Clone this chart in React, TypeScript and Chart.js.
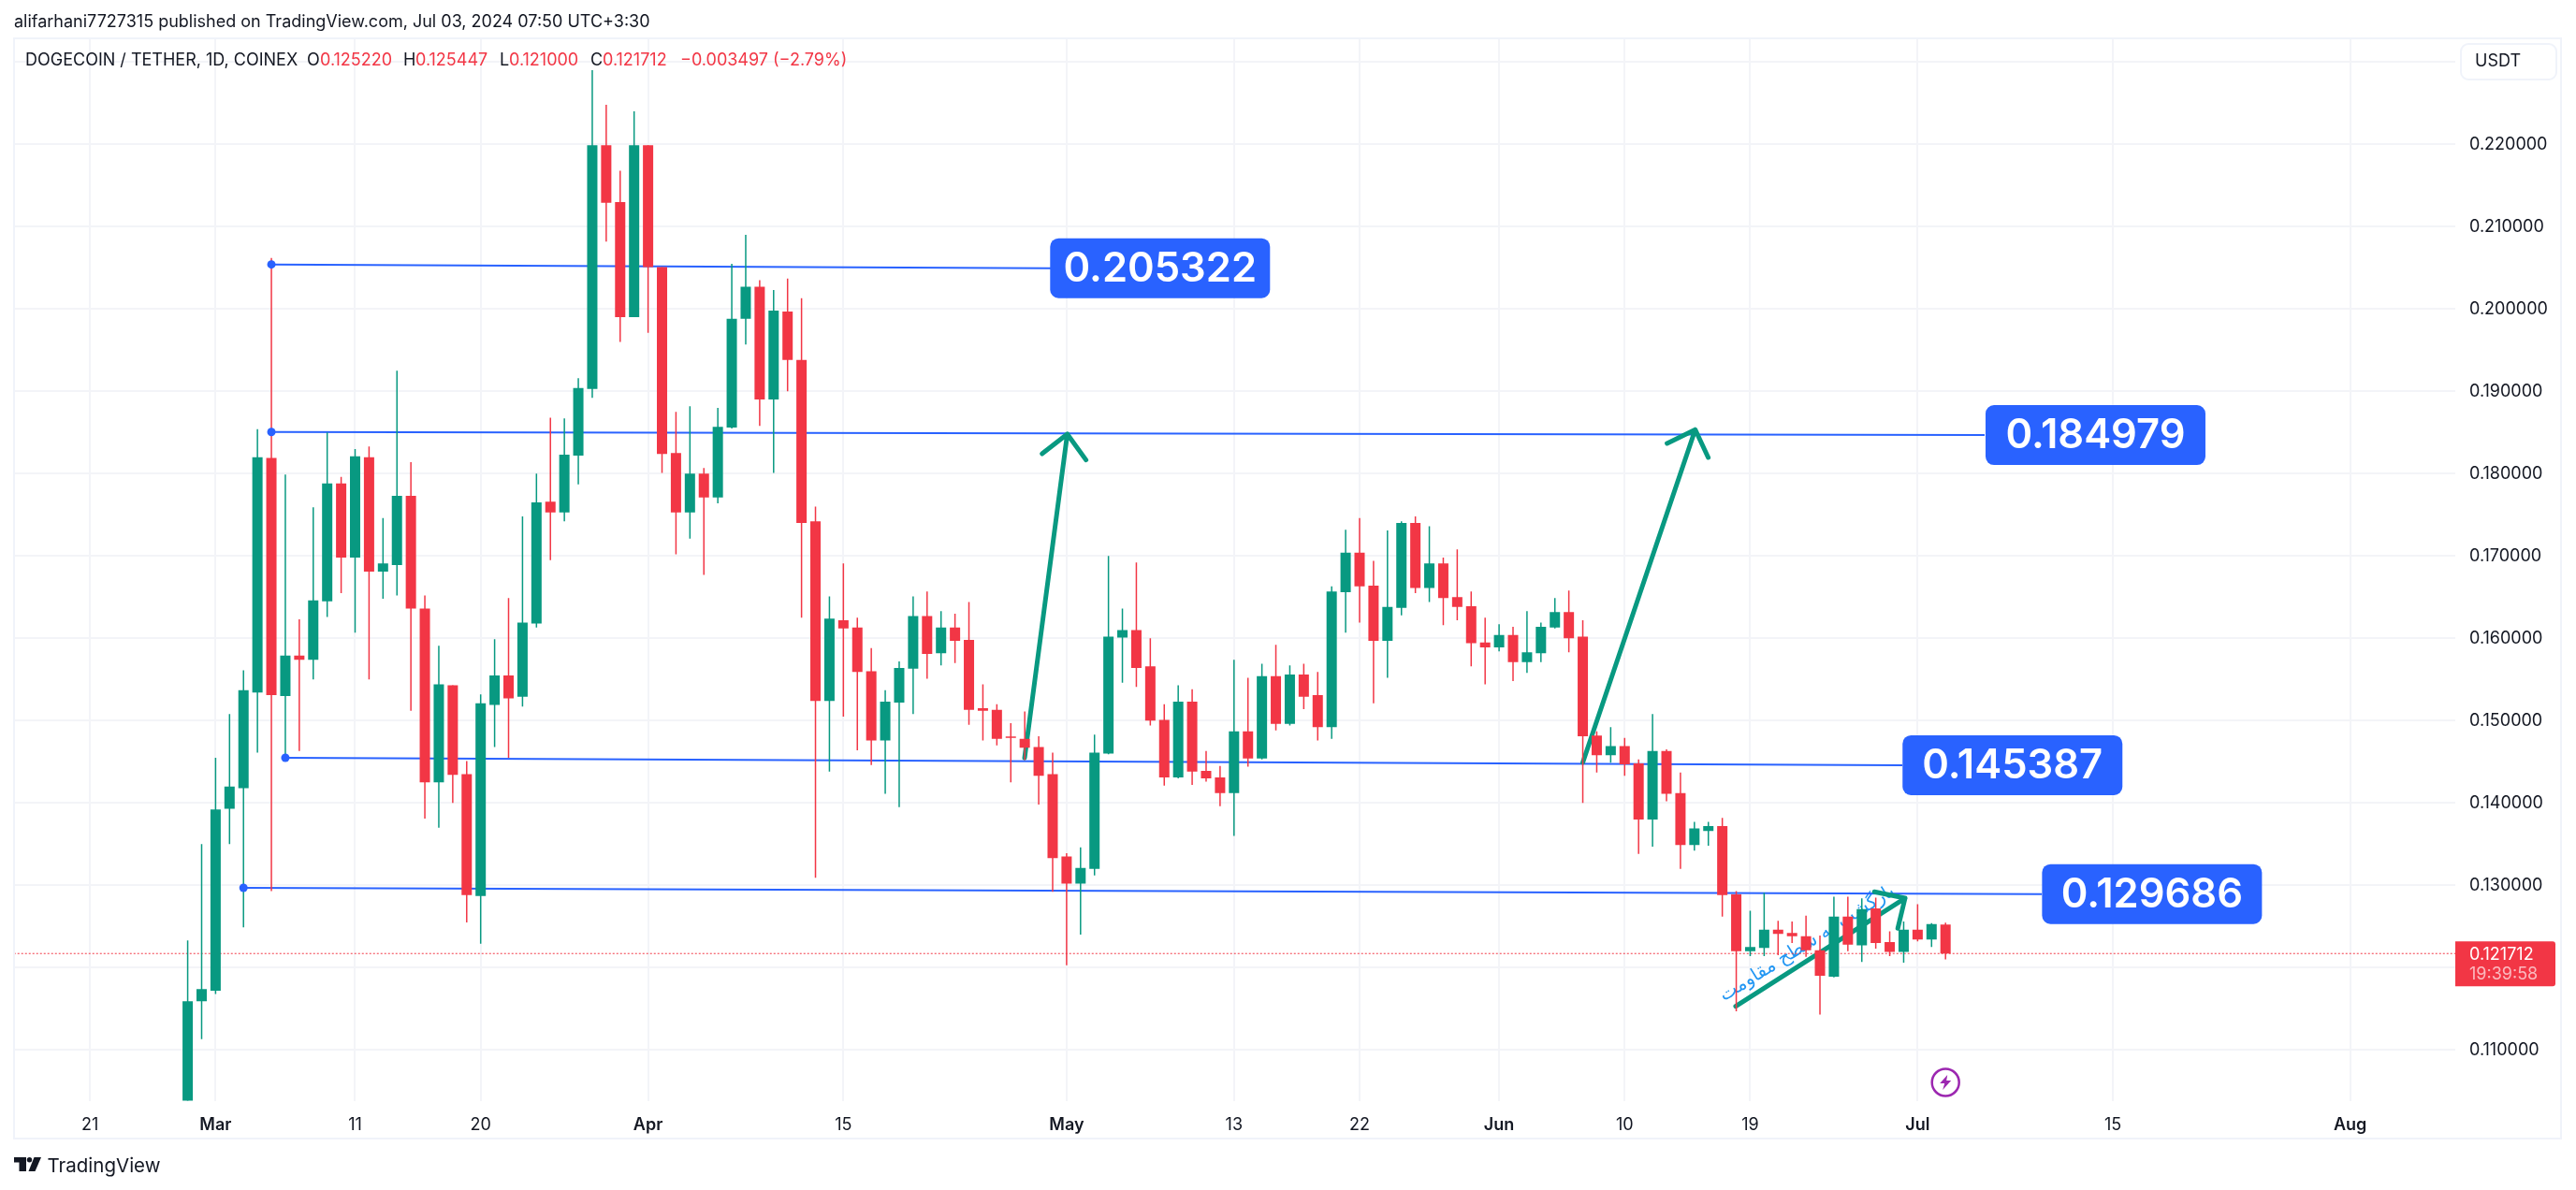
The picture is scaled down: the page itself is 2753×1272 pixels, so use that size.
import React, { useEffect, useRef } from "react";
import { Chart, registerables } from "chart.js";

Chart.register(...registerables);

const candleDates = [
  "02-28","02-29",
  "03-01","03-02","03-03","03-04","03-05","03-06","03-07","03-08","03-09","03-10","03-11","03-12","03-13","03-14","03-15","03-16","03-17","03-18","03-19","03-20","03-21","03-22","03-23","03-24","03-25","03-26","03-27","03-28","03-29","03-30","03-31",
  "04-01","04-02","04-03","04-04","04-05","04-06","04-07","04-08","04-09","04-10","04-11","04-12","04-13","04-14","04-15","04-16","04-17","04-18","04-19","04-20","04-21","04-22","04-23","04-24","04-25","04-26","04-27","04-28","04-29","04-30",
  "05-01","05-02","05-03","05-04","05-05","05-06","05-07","05-08","05-09","05-10","05-11","05-12","05-13","05-14","05-15","05-16","05-17","05-18","05-19","05-20","05-21","05-22","05-23","05-24","05-25","05-26","05-27","05-28","05-29","05-30","05-31",
  "06-01","06-02","06-03","06-04","06-05","06-06","06-07","06-08","06-09","06-10","06-11","06-12","06-13","06-14","06-15","06-16","06-17","06-18","06-19","06-20","06-21","06-22","06-23","06-24","06-25","06-26","06-27","06-28","06-29","06-30",
  "07-01","07-02","07-03",
];

const opens = [
  .0985,.1159,
  .1172,.1393,.1418,.1534,.1819,.1530,.1579,.1574,.1645,.1788,.1698,.1820,.1681,.1689,.1773,.1636,.1425,.1543,.1435,.1287,.1519,.1555,.1529,.1618,.1766,.1753,.1822,.1903,.2199,.2130,.1990,
  .2199,.2051,.1825,.1753,.1800,.1771,.1856,.1988,.2027,.1890,.1997,.1938,.1742,.1524,.1622,.1613,.1560,.1476,.1522,.1563,.1627,.1582,.1613,.1598,.1515,.1513,.1480,.1478,.1468,.1435,
  .1335,.1302,.1320,.1460,.1601,.1610,.1566,.1501,.1431,.1523,.1439,.1431,.1412,.1487,.1454,.1554,.1496,.1556,.1531,.1492,.1656,.1704,.1664,.1597,.1637,.1740,.1661,.1691,.1650,.1639,.1595,
  .1589,.1604,.1571,.1582,.1613,.1632,.1602,.1482,.1458,.1469,.1448,.1380,.1463,.1412,.1349,.1366,.1372,.1289,.1220,.1224,.1246,.1242,.1238,.1221,.1189,.1262,.1227,.1272,.1231,.1219,
  .1246,.1234,.12522,
];

const highs = [
  .1233,.1350,
  .1455,.1508,.1561,.1854,.2062,.1799,.1623,.1759,.1850,.1796,.1830,.1833,.1746,.1925,.1814,.1652,.1591,.1543,.1451,.1532,.1599,.1649,.1748,.1800,.1868,.1867,.1916,.2290,.2248,.2168,.2240,
  .2199,.2051,.1875,.1882,.1807,.1880,.2055,.2090,.2035,.2023,.2037,.2013,.1760,.1651,.1691,.1625,.1588,.1537,.1572,.1651,.1657,.1633,.1630,.1644,.1544,.1520,.1497,.1511,.1481,.1461,
  .1339,.1346,.1483,.1700,.1636,.1692,.1600,.1520,.1543,.1538,.1463,.1445,.1574,.1552,.1569,.1592,.1567,.1569,.1559,.1663,.1732,.1746,.1694,.1731,.1742,.1748,.1736,.1698,.1708,.1657,.1625,
  .1617,.1614,.1633,.1619,.1649,.1658,.1622,.1487,.1492,.1479,.1453,.1508,.1465,.1437,.1377,.1377,.1382,.1293,.1269,.1291,.1257,.1256,.1263,.1239,.1286,.1286,.1284,.1285,.1244,.1256,
  .1277,.1254,.125447,
];

const lows = [
  .0970,.1113,
  .1168,.1350,.1249,.1461,.1293,.1455,.1463,.1550,.1626,.1655,.1607,.1550,.1648,.1652,.1512,.1381,.1370,.1400,.1255,.1229,.1468,.1455,.1517,.1613,.1695,.1742,.1787,.1892,.2082,.1960,.1990,
  .1971,.1801,.1702,.1721,.1677,.1764,.1855,.1957,.1858,.1801,.1900,.1625,.1309,.1438,.1505,.1464,.1446,.1411,.1395,.1508,.1551,.1567,.1570,.1495,.1476,.1470,.1425,.1452,.1398,.1292,
  .1203,.1240,.1312,.1459,.1546,.1541,.1494,.1421,.1430,.1422,.1426,.1396,.1360,.1444,.1453,.1488,.1494,.1514,.1476,.1478,.1607,.1619,.1521,.1552,.1628,.1655,.1644,.1616,.1622,.1566,.1544,
  .1584,.1548,.1558,.1571,.1612,.1583,.1400,.1437,.1449,.1433,.1338,.1347,.1402,.1320,.1342,.1348,.1262,.1147,.1214,.1214,.1215,.1230,.1213,.1143,.1188,.1220,.1207,.1223,.1214,.1206,
  .1232,.1225,.121,
];

const closes = [
  .1159,.1174,
  .1392,.1420,.1537,.1820,.1531,.1579,.1574,.1646,.1788,.1698,.1821,.1681,.1691,.1773,.1636,.1425,.1544,.1434,.1288,.1521,.1555,.1527,.1619,.1765,.1753,.1823,.1904,.2199,.2129,.1990,.2199,
  .2051,.1824,.1753,.1800,.1771,.1857,.1988,.2027,.1890,.1998,.1938,.1740,.1524,.1624,.1612,.1559,.1476,.1523,.1564,.1627,.1581,.1613,.1597,.1513,.1512,.1478,.1479,.1467,.1433,.1333,
  .1302,.1321,.1461,.1602,.1610,.1564,.1500,.1431,.1523,.1438,.1430,.1412,.1487,.1454,.1554,.1496,.1556,.1529,.1492,.1657,.1704,.1663,.1597,.1638,.1740,.1661,.1691,.1649,.1638,.1594,.1589,
  .1604,.1571,.1583,.1614,.1632,.1600,.1481,.1458,.1469,.1447,.1380,.1463,.1411,.1349,.1369,.1372,.1288,.1220,.1225,.1246,.1241,.1238,.1221,.1190,.1262,.1228,.1271,.1230,.1219,.1246,
  .1234,.1253,.121712,
];

const lastClose = 0.121712;

const xTickDays = [-9, 0, 10, 19, 31, 45, 61, 73, 82, 92, 101, 110, 122, 136, 153];
const xTickLabels = ["21", "Mar", "11", "20", "Apr", "15", "May", "13", "22", "Jun", "10", "19", "Jul", "15", "Aug"];
const monthLabels = ["Mar", "Apr", "May", "Jun", "Jul", "Aug"];
const yTickValues = [0.23, 0.22, 0.21, 0.2, 0.19, 0.18, 0.17, 0.16, 0.15, 0.14, 0.13, 0.12, 0.11];
const yHiddenLabels = [0.23, 0.12];

const level205Days = [4, 59.87];
const level205Prices = [0.20541, 0.20495];
const level185Days = [4, 126.8];
const level185Prices = [0.18506, 0.18469];
const level145Days = [5, 120.9];
const level145Prices = [0.14549, 0.14458];
const level130Days = [2, 130.9];
const level130Prices = [0.12969, 0.12893];

const boxTexts = ["0.205322", "0.184979", "0.145387", "0.129686"];
const boxDays = [67.7, 134.75, 128.8, 138.8];
const boxPrices = [0.20495, 0.18469, 0.14458, 0.12893];

const arrowADays = [57.99, 61.05, 59.24, 61.05, 62.39];
const arrowAPrices = [0.14549, 0.18481, 0.18242, 0.18481, 0.18167];
const arrowBDays = [98.0, 106.06, 104.04, 106.06, 106.99];
const arrowBPrices = [0.14492, 0.18534, 0.18367, 0.18534, 0.18197];
const arrowCDays = [108.96, 121.1, 118.9, 121.1, 120.58];
const arrowCPrices = [0.1153, 0.12844, 0.12921, 0.12844, 0.12477];

const noteText = "بازگشت به سطح مقاومت";
const noteDay = 114.1;
const notePrice = 0.1229;

const headerText = "alifarhani7727315 published on TradingView.com, Jul 03, 2024 07:50 UTC+3:30";
const symbolText = "DOGECOIN / TETHER, 1D, COINEX";
const ohlcLetters = ["O", "H", "L", "C"];
const ohlcValues = ["0.125220", "0.125447", "0.121000", "0.121712"];
const changeText = "−0.003497 (−2.79%)";
const countdownText = "19:39:58";
const currencyText = "USDT";
const brandText = "TradingView";
const eventDay = 124;

const GREEN = "#089981";
const RED = "#f23645";
const BLUE = "#2962ff";
const INK = "#131722";
const GRID = "#f3f4f8";
const FRAME = "#f0f3fa";
const FONT = "Inter, 'Noto Sans', sans-serif";

const dayOf = (d: string) => {
  const [m, dd] = d.split("-").map(Number);
  return Math.round((Date.UTC(2024, m - 1, dd) - Date.UTC(2024, 2, 1)) / 86400000);
};
const candleDays = candleDates.map(dayOf);
const pairs = (xs: number[], ys: number[]) => xs.map((x, i) => ({ x, y: ys[i] }));

const annotationPlugin = {
  id: "annotations",
  beforeDatasetsDraw(chart: any) {
    const { ctx, scales } = chart;
    ctx.save();
    ctx.beginPath();
    ctx.rect(chart.chartArea.left, chart.chartArea.top, chart.chartArea.width, chart.chartArea.height);
    ctx.clip();
    ctx.translate(scales.x.getPixelForValue(noteDay), scales.y.getPixelForValue(notePrice));
    ctx.rotate((-32 * Math.PI) / 180);
    ctx.font = "20px 'DejaVu Sans'";
    ctx.fillStyle = "#2196f3";
    ctx.textAlign = "center";
    ctx.textBaseline = "middle";
    ctx.fillText(noteText, 0, 0);
    ctx.restore();
  },
  afterDatasetsDraw(chart: any) {
    const { ctx, scales } = chart;
    ctx.save();
    boxTexts.forEach((t, i) => {
      const cx = scales.x.getPixelForValue(boxDays[i]);
      const cy = scales.y.getPixelForValue(boxPrices[i]);
      ctx.font = `600 43.5px ${FONT}`;
      const w = 235;
      ctx.fillStyle = BLUE;
      ctx.beginPath();
      ctx.roundRect(cx - w / 2, cy - 32, w, 64, 9);
      ctx.fill();
      ctx.fillStyle = "#ffffff";
      ctx.textAlign = "center";
      ctx.textBaseline = "middle";
      ctx.fillText(t, cx, cy + 1);
    });
    // purple event marker
    const ex = scales.x.getPixelForValue(eventDay);
    const ey = chart.chartArea.bottom - 19.5;
    ctx.strokeStyle = "#9c27b0";
    ctx.fillStyle = "#9c27b0";
    ctx.lineWidth = 2.5;
    ctx.beginPath();
    ctx.arc(ex, ey, 14.5, 0, Math.PI * 2);
    ctx.stroke();
    ctx.beginPath();
    [[2, -8], [-6, 1], [-1, 1], [-3, 8], [6, -2], [1, -2]].forEach(([dx, dy], i) =>
      i ? ctx.lineTo(ex + dx, ey + dy) : ctx.moveTo(ex + dx, ey + dy)
    );
    ctx.closePath();
    ctx.fill();
    ctx.restore();
  },
  afterDraw(chart: any) {
    const { ctx, scales } = chart;
    ctx.save();
    // frame
    ctx.strokeStyle = FRAME;
    ctx.lineWidth = 2;
    ctx.strokeRect(15, 41, 2737 - 15, 1217 - 41);
    ctx.textBaseline = "middle";
    ctx.textAlign = "left";
    // header
    ctx.fillStyle = INK;
    ctx.font = `400 18px ${FONT}`;
    ctx.fillText(headerText, 15, 24);
    // legend
    ctx.font = `400 18px ${FONT}`;
    ctx.fillText(symbolText, 27, 65);
    const letterX = [328, 431, 534, 631];
    const valueX = [342, 444, 544, 644];
    ohlcLetters.forEach((l, i) => {
      ctx.fillStyle = INK;
      ctx.fillText(l, letterX[i], 65);
      ctx.fillStyle = RED;
      ctx.fillText(ohlcValues[i], valueX[i], 65);
    });
    ctx.fillText(changeText, 727, 65);
    // price tag
    const py = scales.y.getPixelForValue(lastClose);
    ctx.fillStyle = RED;
    ctx.beginPath();
    ctx.roundRect(2624, py - 13, 107, 48, [0, 3, 3, 0]);
    ctx.fill();
    ctx.font = `400 18px ${FONT}`;
    ctx.fillStyle = "#ffffff";
    ctx.fillText(ohlcValues[3], 2639, py + 1);
    ctx.fillStyle = "rgba(255,255,255,0.65)";
    ctx.fillText(countdownText, 2639, py + 22);
    // currency button
    ctx.fillStyle = "#ffffff";
    ctx.strokeStyle = FRAME;
    ctx.lineWidth = 2;
    ctx.beginPath();
    ctx.roundRect(2630, 47, 102, 38, 8);
    ctx.fill();
    ctx.stroke();
    ctx.fillStyle = INK;
    ctx.fillText(currencyText, 2645, 66);
    // brand
    ctx.fillStyle = INK;
    ctx.fillRect(15, 1237, 13, 5.5);
    ctx.fillRect(20.5, 1237, 7.5, 15);
    ctx.beginPath();
    ctx.arc(31.5, 1239.7, 2.7, 0, Math.PI * 2);
    ctx.fill();
    ctx.beginPath();
    ctx.moveTo(36.5, 1237);
    ctx.lineTo(44, 1237);
    ctx.lineTo(37.5, 1252);
    ctx.lineTo(30.5, 1252);
    ctx.closePath();
    ctx.fill();
    ctx.font = `400 20.5px ${FONT}`;
    ctx.fillText(brandText, 50.5, 1247);
    ctx.restore();
  },
};

export default function App() {
  const ref = useRef<HTMLCanvasElement | null>(null);
  useEffect(() => {
    document.body.style.margin = "0";
    const colors = closes.map((c, i) => (c >= opens[i] ? GREEN : RED));
    const levelLine = (xs: number[], ys: number[]) => ({
      type: "line" as const,
      data: pairs(xs, ys),
      borderColor: BLUE,
      borderWidth: 2,
      pointRadius: 0,
      order: 5,
      tension: 0,
    });
    const arrowLine = (xs: number[], ys: number[]) => ({
      type: "line" as const,
      data: pairs(xs, ys),
      borderColor: GREEN,
      borderWidth: 5,
      borderCapStyle: "round",
      borderJoinStyle: "round",
      pointRadius: 0,
      order: 4,
      tension: 0,
    });
    const chart = new Chart(ref.current!, {
      type: "bar",
      data: {
        datasets: [
          {
            type: "line",
            data: pairs(
              [level205Days[0], level185Days[0], level145Days[0], level130Days[0]],
              [level205Prices[0], level185Prices[0], level145Prices[0], level130Prices[0]]
            ),
            showLine: false,
            backgroundColor: BLUE,
            pointRadius: 4.5,
            pointBorderWidth: 0,
            order: 0,
          },
          {
            type: "bar",
            data: candleDays.map((x, i) => ({ x, y: [opens[i], closes[i]] })),
            backgroundColor: colors,
            borderWidth: 0,
            barThickness: 11,
            grouped: false,
            inflateAmount: 0,
            minBarLength: 1.5,
            order: 1,
          },
          {
            type: "bar",
            data: candleDays.map((x, i) => ({ x, y: [lows[i], highs[i]] })),
            backgroundColor: colors,
            borderWidth: 0,
            barThickness: 1.5,
            grouped: false,
            inflateAmount: 0,
            order: 2,
          },
          {
            type: "line",
            data: [
              { x: -15, y: lastClose },
              { x: 161, y: lastClose },
            ],
            borderColor: RED,
            borderWidth: 1,
            borderDash: [2, 2],
            pointRadius: 0,
            order: 3,
          },
          arrowLine(arrowADays, arrowAPrices),
          arrowLine(arrowBDays, arrowBPrices),
          arrowLine(arrowCDays, arrowCPrices),
          levelLine(level205Days, level205Prices),
          levelLine(level185Days, level185Prices),
          levelLine(level145Days, level145Prices),
          levelLine(level130Days, level130Prices),
        ] as any,
      },
      options: {
        responsive: false,
        animation: false,
        devicePixelRatio: 1,
        layout: { padding: { left: 16, right: 16, top: 42, bottom: 55 } },
        plugins: { legend: { display: false }, tooltip: { enabled: false }, title: { display: false } },
        scales: {
          x: {
            type: "linear",
            offset: false,
            min: -14.38,
            max: 160.54,
            grid: { color: GRID, lineWidth: 2, drawTicks: false, offset: false },
            border: { display: false },
            afterBuildTicks: (s: any) => {
              s.ticks = xTickDays.map((value) => ({ value }));
            },
            afterFit: (s: any) => {
              s.height = 40.5;
            },
            ticks: {
              autoSkip: false,
              maxRotation: 0,
              padding: 15,
              color: INK,
              font: (c: any) => ({
                family: FONT,
                size: 18,
                weight: monthLabels.includes(xTickLabels[c.index]) ? 600 : 400,
              }),
              callback: (_v: any, i: number) => xTickLabels[i],
            },
          },
          y: {
            type: "linear",
            position: "right",
            min: 0.10384,
            max: 0.23276,
            grid: { color: GRID, lineWidth: 2, drawTicks: false },
            border: { display: false },
            afterBuildTicks: (s: any) => {
              s.ticks = yTickValues.map((value) => ({ value }));
            },
            afterFit: (s: any) => {
              s.width = 113;
            },
            ticks: {
              autoSkip: false,
              padding: 15,
              color: INK,
              font: { family: FONT, size: 18 },
              callback: (v: any) => (yHiddenLabels.includes(v) ? "" : Number(v).toFixed(6)),
            },
          },
        },
      } as any,
      plugins: [annotationPlugin],
    });
    return () => chart.destroy();
  }, []);
  return (
    <canvas
      ref={ref}
      width={2753}
      height={1272}
      style={{ display: "block", position: "absolute", left: 0, top: 0 }}
    />
  );
}
